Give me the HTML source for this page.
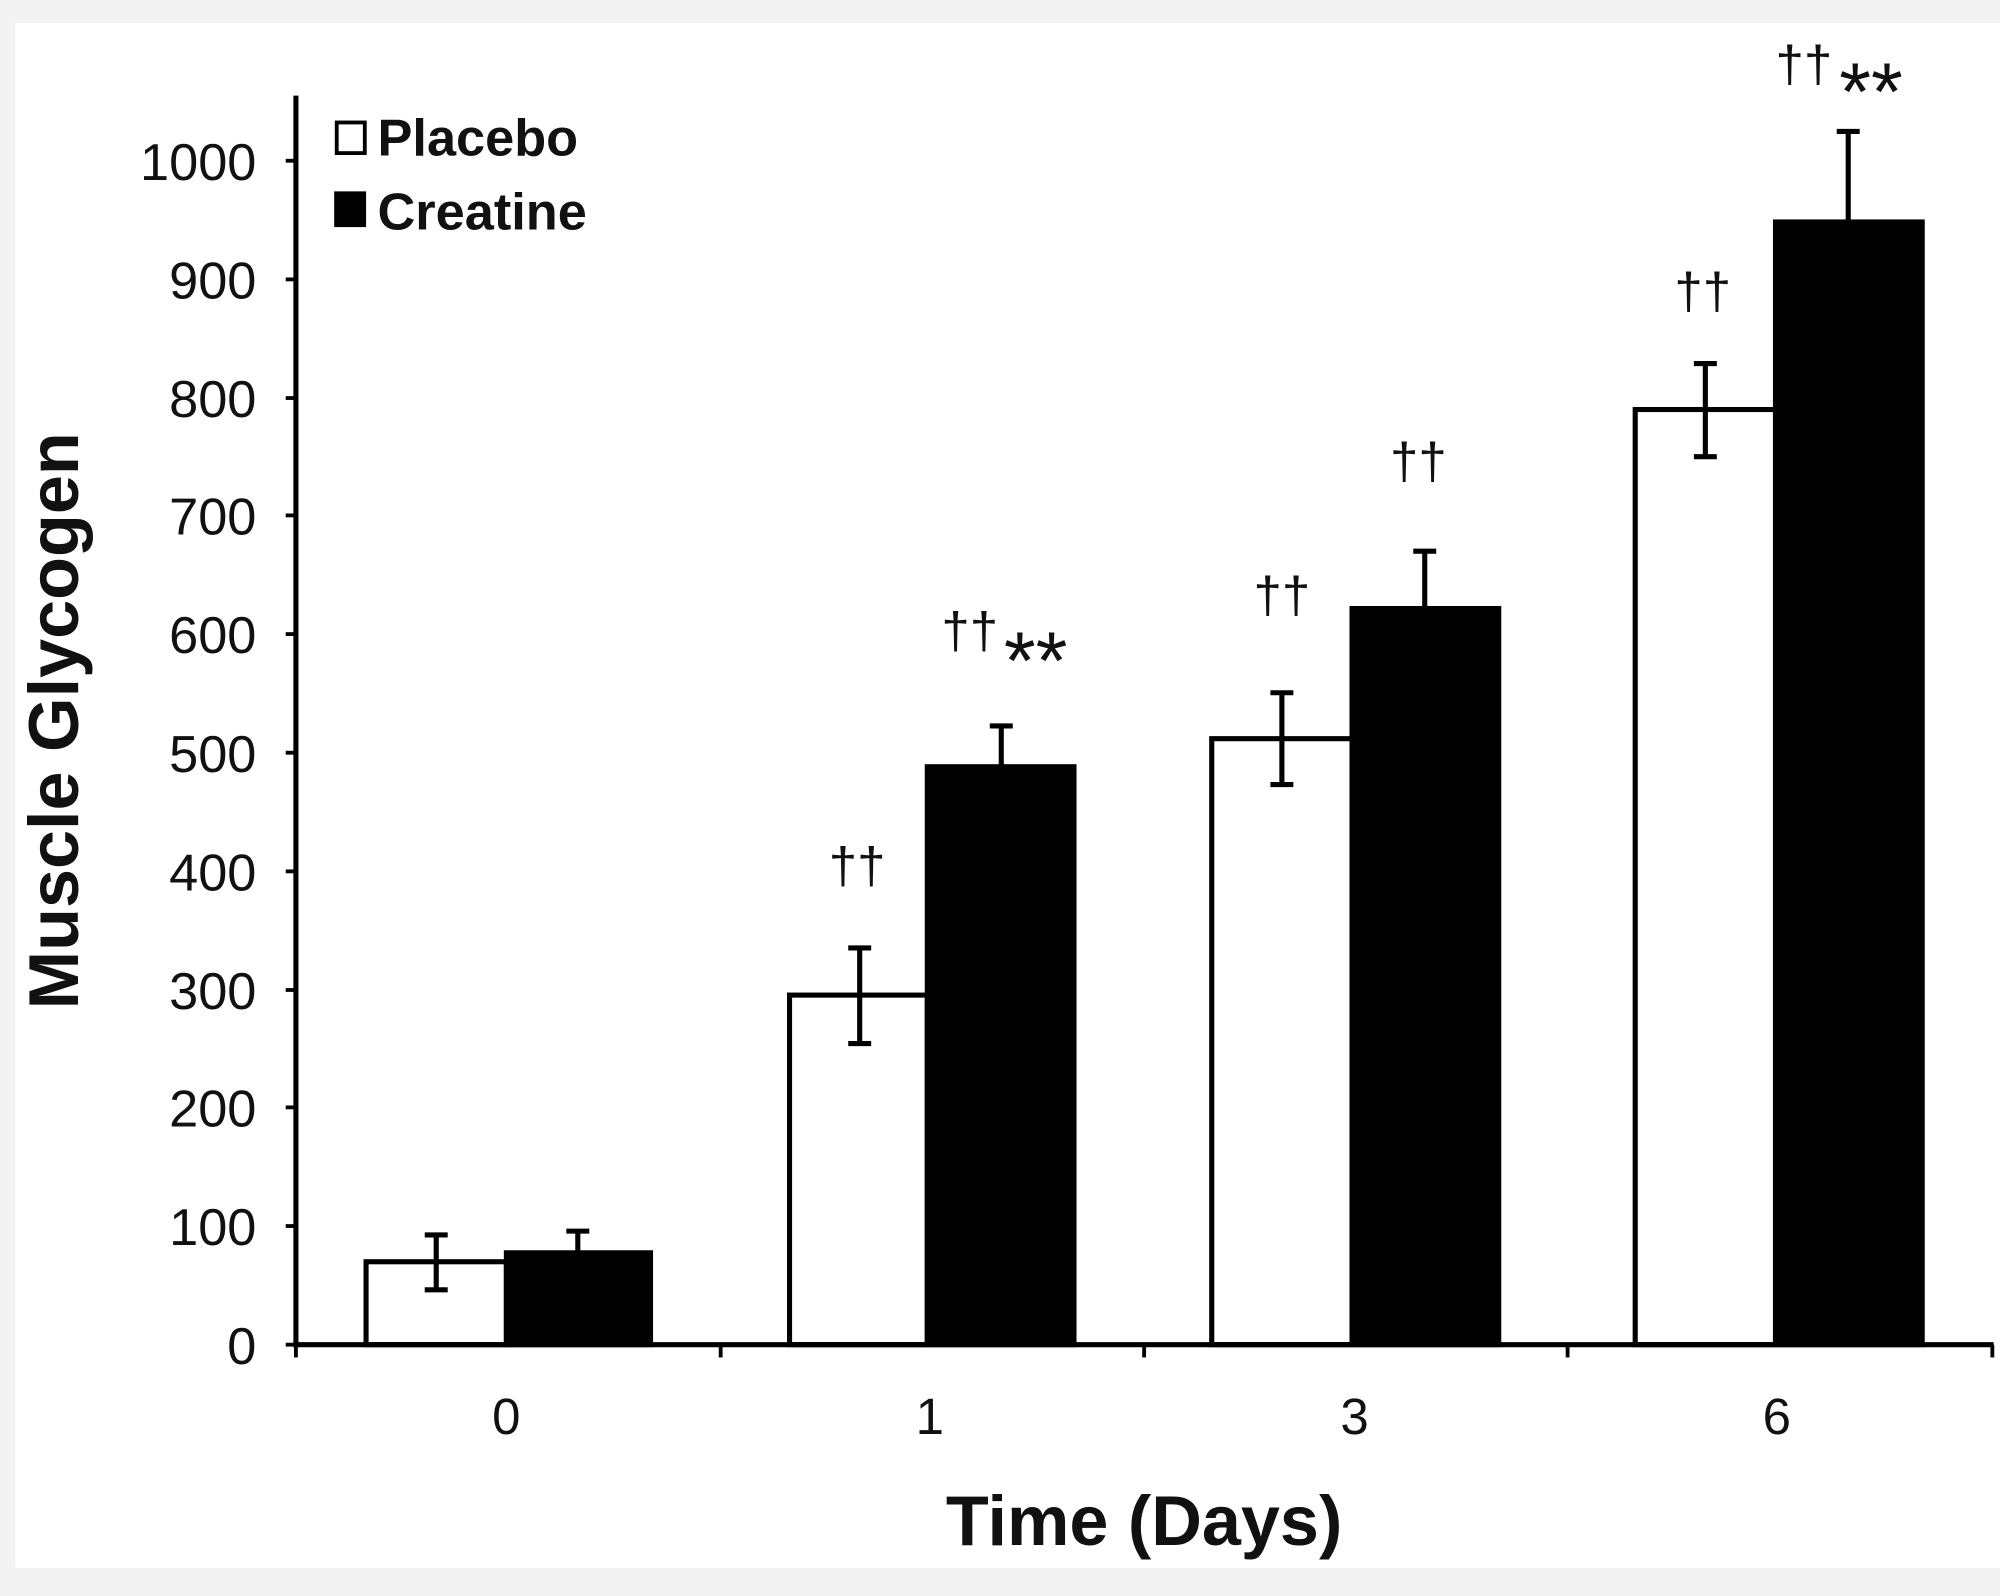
<!DOCTYPE html>
<html><head><meta charset="utf-8"><style>
html,body{margin:0;padding:0;background:#f3f3f3}
svg{display:block}
text{font-family:"Liberation Sans",Arial,sans-serif;fill:#111}
</style></head><body>
<svg width="2000" height="1596" viewBox="0 0 1568 1251" preserveAspectRatio="none" xmlns="http://www.w3.org/2000/svg">
<rect x="0" y="0" width="1568" height="1251" fill="#f3f3f3"/>
<rect x="12" y="18" width="1556" height="1211" fill="#ffffff"/>
<g stroke="#000" stroke-width="4">
<rect x="287" y="989" width="110" height="65" fill="#fff"/>
<rect x="397" y="982" width="113" height="72" fill="#000"/>
<rect x="619" y="780" width="108" height="274" fill="#fff"/>
<rect x="727" y="601" width="115" height="453" fill="#000"/>
<rect x="950" y="579" width="110" height="475" fill="#fff"/>
<rect x="1060" y="477" width="115" height="577" fill="#000"/>
<rect x="1282" y="321" width="110" height="733" fill="#fff"/>
<rect x="1392" y="174" width="115" height="880" fill="#000"/>
</g>
<g stroke="#000" stroke-width="4">
<line x1="342" y1="968" x2="342" y2="1011"/><line x1="333" y1="968" x2="351" y2="968"/><line x1="333" y1="1011" x2="351" y2="1011"/>
<line x1="453" y1="965" x2="453" y2="982"/><line x1="444" y1="965" x2="462" y2="965"/>
<line x1="674" y1="743" x2="674" y2="818"/><line x1="665" y1="743" x2="683" y2="743"/><line x1="665" y1="818" x2="683" y2="818"/>
<line x1="785" y1="569" x2="785" y2="601"/><line x1="776" y1="569" x2="794" y2="569"/>
<line x1="1005" y1="543" x2="1005" y2="615"/><line x1="996" y1="543" x2="1014" y2="543"/><line x1="996" y1="615" x2="1014" y2="615"/>
<line x1="1117" y1="432" x2="1117" y2="477"/><line x1="1108" y1="432" x2="1126" y2="432"/>
<line x1="1337" y1="285" x2="1337" y2="358"/><line x1="1328" y1="285" x2="1346" y2="285"/><line x1="1328" y1="358" x2="1346" y2="358"/>
<line x1="1449" y1="103" x2="1449" y2="174"/><line x1="1440" y1="103" x2="1458" y2="103"/>
</g>
<g stroke="#000" stroke-width="4">
<line x1="232" y1="75" x2="232" y2="1056"/>
<line x1="230" y1="1054" x2="1563" y2="1054"/>
</g>
<g stroke="#000" stroke-width="3">
<line x1="224" y1="1054" x2="232" y2="1054"/><line x1="224" y1="961" x2="232" y2="961"/><line x1="224" y1="868" x2="232" y2="868"/><line x1="224" y1="776" x2="232" y2="776"/><line x1="224" y1="683" x2="232" y2="683"/><line x1="224" y1="590" x2="232" y2="590"/><line x1="224" y1="497" x2="232" y2="497"/><line x1="224" y1="404" x2="232" y2="404"/><line x1="224" y1="312" x2="232" y2="312"/><line x1="224" y1="219" x2="232" y2="219"/><line x1="224" y1="126" x2="232" y2="126"/>
<line x1="232" y1="1054" x2="232" y2="1064"/><line x1="565" y1="1054" x2="565" y2="1064"/><line x1="897" y1="1054" x2="897" y2="1064"/><line x1="1229" y1="1054" x2="1229" y2="1064"/><line x1="1562" y1="1054" x2="1562" y2="1064"/>
</g>
<g font-size="41" text-anchor="end" fill="#222">
<text x="201" y="1069">0</text><text x="201" y="976">100</text><text x="201" y="883">200</text><text x="201" y="791">300</text><text x="201" y="698">400</text><text x="201" y="605">500</text><text x="201" y="512">600</text><text x="201" y="419">700</text><text x="201" y="327">800</text><text x="201" y="234">900</text><text x="201" y="141">1000</text>
</g>
<g font-size="40" text-anchor="middle">
<text x="397" y="1124">0</text><text x="729" y="1124">1</text><text x="1062" y="1124">3</text><text x="1393" y="1124">6</text>
</g>
<text x="897" y="1211" font-size="55" font-weight="bold" text-anchor="middle">Time (Days)</text>
<text transform="translate(61,565) rotate(-90)" font-size="55" font-weight="bold" text-anchor="middle">Muscle Glycogen</text>
<rect x="264" y="96" width="22" height="24" fill="#fff" stroke="#000" stroke-width="3"/>
<rect x="262" y="150" width="25" height="28" fill="#000"/>
<text x="296" y="122" font-size="41" font-weight="bold">Placebo</text>
<text x="296" y="180" font-size="41" font-weight="bold">Creatine</text>
<g font-size="40">
<text x="672" y="692" text-anchor="middle" fill="#555">††</text>
<text x="738" y="508" fill="#555">††</text><text x="787" y="540" font-size="64" fill="#333">**</text>
<text x="1005" y="480" text-anchor="middle" fill="#555">††</text>
<text x="1112" y="375" text-anchor="middle" fill="#555">††</text>
<text x="1335" y="242" text-anchor="middle" fill="#555">††</text>
<text x="1392" y="64" fill="#555">††</text><text x="1442" y="94" font-size="64" fill="#333">**</text>
</g>
</svg>
</body></html>
